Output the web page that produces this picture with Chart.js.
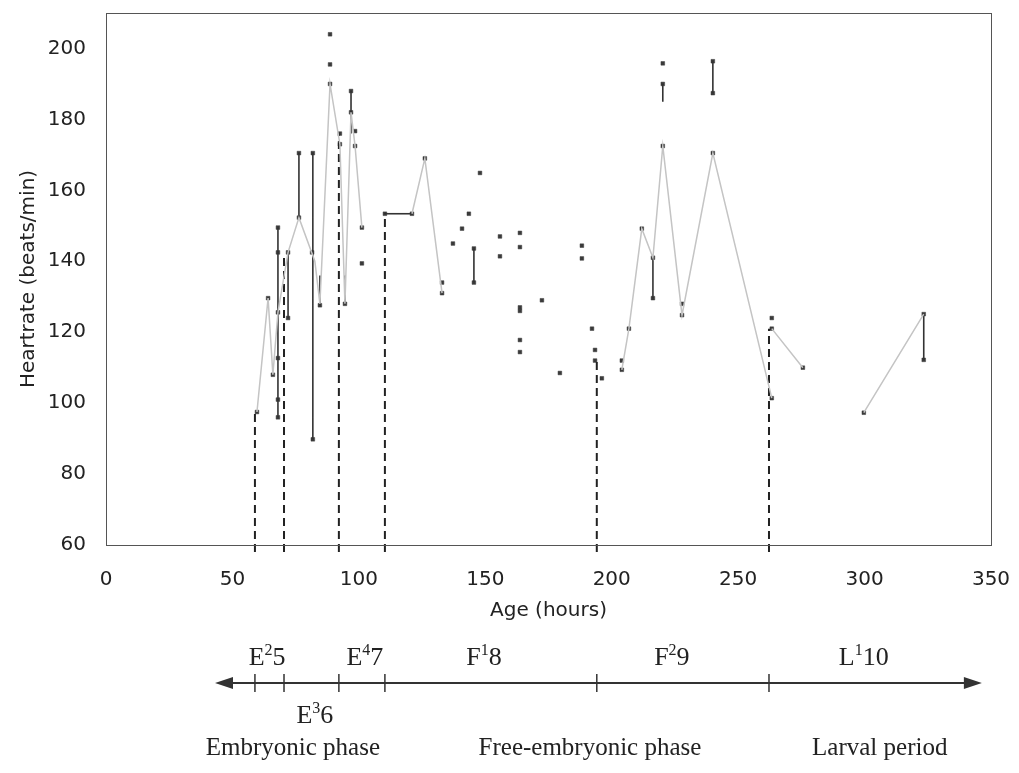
<!DOCTYPE html>
<html>
<head>
<meta charset="utf-8">
<script src="https://cdn.jsdelivr.net/npm/chart.js@4.4.1/dist/chart.umd.min.js"></script>
<style>
  html, body { margin: 0; padding: 0; background: #fff; }
  #wrap { width: 1019px; height: 773px; }
</style>
</head>
<body>
<div id="wrap"><canvas id="chart"></canvas></div>
<script>
// measured heart rates (hours, beats/min)
var pointHours = [59.7, 64.1, 66.0,
  68.0, 68.0, 68.0, 68.0, 68.0, 68.0,
  72.0, 72.0, 76.3, 76.3, 81.5, 81.8, 81.8, 84.6,
  88.6, 88.6, 88.6, 92.5, 92.5, 94.5, 96.9, 96.9, 98.5, 98.5,
  101.2, 101.2, 110.3, 121.0, 126.1, 132.9, 132.9, 137.2, 140.8, 143.5,
  145.5, 145.5, 147.9, 155.8, 155.8,
  163.7, 163.7, 163.7, 163.7, 163.7, 163.7,
  172.4, 179.5, 188.2, 188.2, 192.2, 193.4, 193.4, 196.1,
  204.0, 204.0, 206.8, 211.9, 216.3, 216.3,
  220.2, 220.2, 220.2, 227.8, 227.8, 240.0, 240.0, 240.0,
  263.3, 263.3, 263.3, 275.6, 299.7, 323.4, 323.4];
var pointRates = [97.5, 129.6, 108,
  149.5, 142.5, 125.6, 112.7, 101, 96,
  142.5, 124, 170.5, 152.3, 142.5, 170.5, 89.8, 127.6,
  204, 195.5, 190, 176, 173, 128, 188, 182, 176.7, 172.5,
  149.5, 139.4, 153.4, 153.4, 169, 134, 131, 145, 149.2, 153.4,
  143.6, 134, 164.9, 147, 141.4,
  148, 144, 127, 126, 117.8, 114.4,
  129, 108.5, 144.4, 140.8, 121, 115, 112, 107,
  112, 109.4, 121, 149.2, 141, 129.6,
  195.8, 190, 172.5, 128, 124.8, 196.4, 187.4, 170.5,
  124, 121, 101.4, 110, 97.3, 125.1, 112.2];

// faint connecting line (null = gap)
var trendHours = [59.7, 64.1, 66.0, 68.0, 72.0, 76.3, 82.6, 84.6, 88.6, 92.5, 94.5, 96.9, 98.5, 101.2, 101.2,
  121.0, 126.1, 132.9, 132.9,
  204.0, 206.8, 211.9, 216.3, 220.2, 227.8, 240.0, 263.3, 263.3,
  263.3, 275.6, 275.6,
  299.7, 323.4];
var trendRates = [97.5, 129.6, 108, 125.6, 142.5, 152.3, 140, 128, 190, 173, 128, 182, 172.5, 149.5, null,
  153.4, 169, 131, null,
  109.4, 121, 149.2, 141, 172.5, 124.8, 170.5, 101.4, null,
  121, 110, null,
  97.3, 125.1];

// solid vertical ranges
var rangeHours = [68.0, 72.0, 76.3, 81.8, 84.6, 94.5, 96.9, 145.5, 216.3, 220.2, 240.0, 323.4];
var rangeLow   = [96, 124, 152.3, 89.8, 127.6, 128, 176, 134, 129.6, 185, 187.4, 112.2];
var rangeHigh  = [149.5, 142.5, 170.5, 170.5, 136, 136, 188, 143.6, 141, 190, 196.4, 125.1];

// plateau segment
var plateauHours = [110.3, 121.0];
var plateauRate = 153.4;

// stage boundaries
var stageHours = [58.9, 70.4, 92.1, 110.3, 194.1, 262.2];
var stageTops  = [97.5, 141, 176, 153.4, 112, 121];

// stage labels on the time line
var stageBase  = ['E', 'E', 'E', 'F', 'F', 'L'];
var stageSup   = ['2', '3', '4', '1', '2', '1'];
var stageNum   = ['5', '6', '7', '8', '9', '10'];
var stageAt    = [63.7, 82.6, 102.4, 149.5, 223.8, 299.7];
var stageBelow = [false, true, false, false, false, false];

var phaseNames = ['Embryonic phase', 'Free-embryonic phase', 'Larval period'];
var phaseAt    = [73.9, 191.4, 306];
var timelineFrom = 43.1, timelineTo = 346.4;

var xTicks = [0, 50, 100, 150, 200, 250, 300, 350];
var yTicks = [60, 80, 100, 120, 140, 160, 180, 200];

var sans = "'DejaVu Sans', sans-serif";
var serif = "'Liberation Serif', 'DejaVu Serif', serif";

function pairs(xs, ys) {
  return xs.map(function (x, i) { return { x: x, y: ys[i] }; });
}

var rangeData = [];
rangeHours.forEach(function (h, i) {
  rangeData.push({ x: h, y: rangeLow[i] }, { x: h, y: rangeHigh[i] }, { x: h, y: null });
});
var stageData = [];
stageHours.forEach(function (h, i) {
  stageData.push({ x: h, y: 58 }, { x: h, y: stageTops[i] }, { x: h, y: null });
});

var extras = {
  id: 'extras',
  afterDraw: function (chart) {
    var ctx = chart.ctx, a = chart.chartArea, xs = chart.scales.x;
    ctx.save();
    // frame
    ctx.strokeStyle = '#555';
    ctx.lineWidth = 1;
    ctx.strokeRect(a.left + 0.5, a.top + 0.5, a.right - a.left, a.bottom - a.top);

    // axis titles
    ctx.fillStyle = '#222';
    ctx.font = '20px ' + sans;
    ctx.textAlign = 'center';
    ctx.textBaseline = 'alphabetic';
    ctx.fillText('Age (hours)', (a.left + a.right) / 2, 616);
    ctx.save();
    ctx.translate(34, (a.top + a.bottom) / 2);
    ctx.rotate(-Math.PI / 2);
    ctx.fillText('Heartrate (beats/min)', 0, 0);
    ctx.restore();

    // time line with arrows
    var ly = 683;
    var x0 = xs.getPixelForValue(timelineFrom), x1 = xs.getPixelForValue(timelineTo);
    ctx.strokeStyle = '#333';
    ctx.fillStyle = '#333';
    ctx.lineWidth = 2;
    ctx.beginPath();
    ctx.moveTo(x0 + 8, ly); ctx.lineTo(x1 - 8, ly);
    ctx.stroke();
    ctx.beginPath();
    ctx.moveTo(x0, ly); ctx.lineTo(x0 + 18, ly - 6); ctx.lineTo(x0 + 18, ly + 6); ctx.closePath();
    ctx.fill();
    ctx.beginPath();
    ctx.moveTo(x1, ly); ctx.lineTo(x1 - 18, ly - 6); ctx.lineTo(x1 - 18, ly + 6); ctx.closePath();
    ctx.fill();
    ctx.lineWidth = 1.5;
    stageHours.forEach(function (h) {
      var px = xs.getPixelForValue(h);
      ctx.beginPath();
      ctx.moveTo(px, ly - 9); ctx.lineTo(px, ly + 9);
      ctx.stroke();
    });

    // stage names with superscripts
    ctx.fillStyle = '#222';
    ctx.textAlign = 'left';
    stageBase.forEach(function (b, i) {
      var big = '26px ' + serif, small = '16px ' + serif;
      ctx.font = big;
      var wb = ctx.measureText(b).width, wn = ctx.measureText(stageNum[i]).width;
      ctx.font = small;
      var ws = ctx.measureText(stageSup[i]).width;
      var cx = xs.getPixelForValue(stageAt[i]);
      var y = stageBelow[i] ? 723 : 665;
      var x = cx - (wb + ws + wn) / 2;
      ctx.font = big;
      ctx.fillText(b, x, y);
      ctx.font = small;
      ctx.fillText(stageSup[i], x + wb, y - 10);
      ctx.font = big;
      ctx.fillText(stageNum[i], x + wb + ws, y);
    });

    // phase names
    ctx.textAlign = 'center';
    ctx.font = '25px ' + serif;
    phaseNames.forEach(function (p, i) {
      ctx.fillText(p, xs.getPixelForValue(phaseAt[i]), 755);
    });
    ctx.restore();
  }
};

var config = {
  type: 'scatter',
  data: {
    datasets: [{
      data: pairs(trendHours, trendRates),
      showLine: true,
      spanGaps: false,
      borderColor: '#c4c4c4',
      borderWidth: 1.5,
      pointRadius: 0
    }, {
      data: stageData,
      showLine: true,
      spanGaps: false,
      borderColor: '#222',
      borderWidth: 2,
      borderDash: [8, 5],
      pointRadius: 0,
      clip: { left: 0, top: 0, right: 0, bottom: 12 }
    }, {
      data: rangeData,
      showLine: true,
      spanGaps: false,
      borderColor: '#333',
      borderWidth: 1.6,
      pointRadius: 0
    }, {
      data: pairs(plateauHours, [plateauRate, plateauRate]),
      showLine: true,
      borderColor: '#333',
      borderWidth: 1.6,
      pointRadius: 0
    }, {
      data: pairs(pointHours, pointRates),
      pointStyle: 'rect',
      pointRadius: 2.6,
      backgroundColor: '#3a3a3a',
      borderColor: '#3a3a3a',
      borderWidth: 0.5
    }]
  },
  options: {
    responsive: true,
    maintainAspectRatio: false,
    animation: false,
    layout: { padding: { top: 13, right: 28, left: 0, bottom: 0 } },
    plugins: { legend: { display: false }, tooltip: { enabled: false } },
    scales: {
      x: {
        type: 'linear',
        min: 0, max: 350,
        afterFit: function (s) { s.height = 228; s.paddingLeft = 0; s.paddingRight = 0; },
        afterBuildTicks: function (s) { s.ticks = xTicks.map(function (v) { return { value: v }; }); },
        grid: { display: false },
        border: { display: true, color: '#555' },
        ticks: { padding: 15, color: '#222', font: { family: sans, size: 20 } }
      },
      y: {
        min: 60, max: 210,
        afterFit: function (s) { s.width = 106; s.paddingTop = 0; s.paddingBottom = 0; },
        afterBuildTicks: function (s) { s.ticks = yTicks.map(function (v) { return { value: v }; }); },
        grid: { display: false },
        border: { display: true, color: '#555' },
        ticks: { padding: 12, color: '#222', font: { family: sans, size: 20 } }
      }
    }
  },
  plugins: [extras]
};

window.onload = function () {
  var ctx = document.getElementById('chart').getContext('2d');
  window.heartChart = new Chart(ctx, config);
};
</script>
</body>
</html>
